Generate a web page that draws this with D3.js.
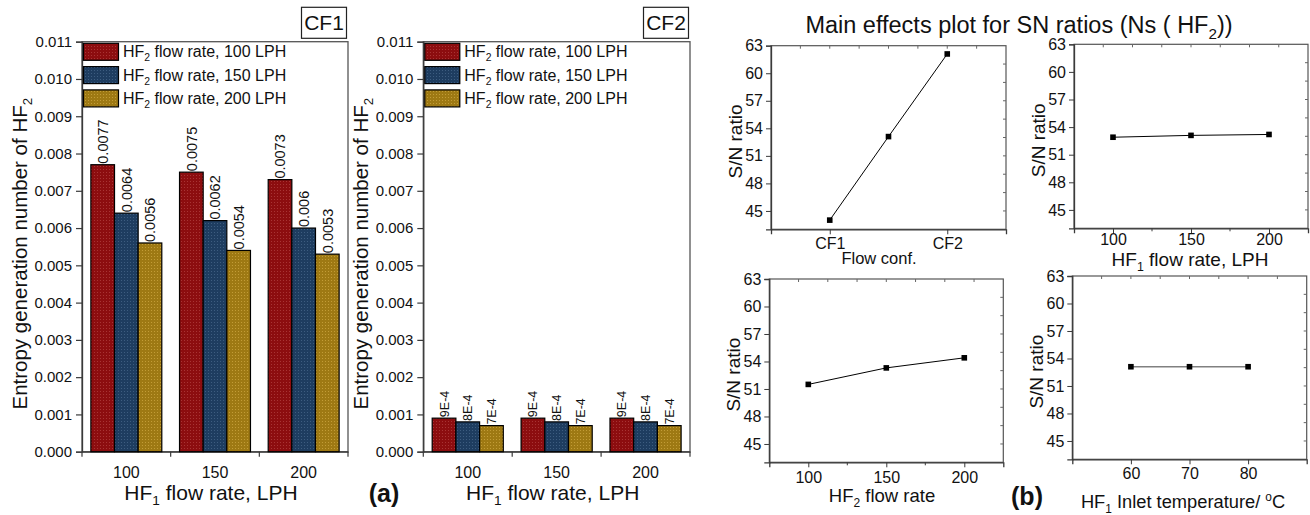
<!DOCTYPE html>
<html>
<head>
<meta charset="utf-8">
<script src="https://cdn.jsdelivr.net/npm/d3@7"></script>
<style>
  body { margin: 0; background: #fff; }
  svg { font-family: "Liberation Sans", Arial, sans-serif; }
</style>
</head>
<body>
<svg id="chart" width="1310" height="515"></svg>
<script>
// ---- data ----
var hf1Categories = ["100", "150", "200"];
var hf2Series = ["100", "150", "200"];
var entropyTicks = [0, 0.001, 0.002, 0.003, 0.004, 0.005, 0.006, 0.007, 0.008, 0.009, 0.010, 0.011];

// CF1, one array per HF2 flow rate, ordered by HF1 category
var cf1Hf2_100 = [0.0077, 0.0075, 0.0073];
var cf1Hf2_150 = [0.0064, 0.0062, 0.006];
var cf1Hf2_200 = [0.0056, 0.0054, 0.0053];

// CF2
var cf2Hf2_100 = [0.0009, 0.0009, 0.0009];
var cf2Hf2_150 = [0.0008, 0.0008, 0.0008];
var cf2Hf2_200 = [0.0007, 0.0007, 0.0007];

// main effects (S/N ratios)
var snTicks = [45, 48, 51, 54, 57, 60, 63];
var flowConfX = [1, 1.5, 2];
var flowConfSN = [44.0, 53.1, 62.1];
var hf1FlowX = [100, 150, 200];
var hf1FlowSN = [52.9, 53.1, 53.2];
var hf2FlowX = [100, 150, 200];
var hf2FlowSN = [51.5, 53.3, 54.4];
var inletTempX = [60, 70, 80];
var inletTempSN = [53.1, 53.1, 53.1];

var seriesColors = ["#8c0d0f", "#1e3d60", "#9e7913"];
var dotColors = ["#a83434", "#3d5d80", "#c29c36"];

var svg = d3.select("#chart");
var axisColor = "#3a3a3a";

/**
 * dotted fill patterns like the origin bars
 */
var defs = svg.append("defs");
seriesColors.forEach(function(c, i) {
    var p = defs.append("pattern")
            .attr("id", "pat" + i)
            .attr("patternUnits", "userSpaceOnUse")
            .attr("width", 3).attr("height", 3);
    p.append("rect").attr("width", 3).attr("height", 3).attr("fill", c);
    p.append("rect").attr("x", 1).attr("y", 1).attr("width", 1).attr("height", 1)
            .attr("fill", dotColors[i]);
});

/**
 * writes text made of parts, each part [string, "sub"|"sup"|null]
 */
function richText(sel, parts, size) {
    var shift = 0;
    parts.forEach(function(p) {
        var t = sel.append("tspan").text(p[0]);
        var want = 0;
        if (p[1] === "sub") {
            want = size * 0.25;
            t.attr("font-size", size * 0.65);
        } else if (p[1] === "sup") {
            want = -size * 0.38;
            t.attr("font-size", size * 0.65);
        }
        if (want !== shift) {
            t.attr("dy", want - shift);
            shift = want;
        }
    });
}

/**
 * one bar panel (CF1 / CF2)
 */
function drawBarPanel(cfg) {
    var g = svg.append("g");
    var y = d3.scaleLinear().domain([0, 0.011]).range([cfg.bottom, cfg.top]);
    var x0 = d3.scaleBand().domain(hf1Categories).range([cfg.left, cfg.right])
            .paddingInner(0.2).paddingOuter(0.1);
    var x1 = d3.scaleBand().domain(hf2Series).range([0, x0.bandwidth()]);
    var step = x0.step();

    // frame
    g.append("rect")
            .attr("x", cfg.left).attr("y", cfg.top)
            .attr("width", cfg.right - cfg.left).attr("height", cfg.bottom - cfg.top)
            .attr("fill", "none").attr("stroke", "#555").attr("stroke-width", 1.3);

    // y axis
    var yAxis = g.append("g")
            .attr("transform", "translate(" + cfg.left + ",0)")
            .call(d3.axisLeft(y).tickValues(entropyTicks).tickFormat(d3.format(".3f"))
                    .tickSize(6).tickPadding(4));
    yAxis.select(".domain").attr("stroke", axisColor).attr("stroke-width", 1.3);
    yAxis.selectAll(".tick line").attr("stroke", axisColor).attr("stroke-width", 1.2);
    yAxis.selectAll(".tick text").attr("font-size", 15).attr("fill", "#111")
            .attr("font-family", "Liberation Sans, Arial, sans-serif");

    // x axis: labels at centers, ticks on boundaries
    var xAxis = g.append("g")
            .attr("transform", "translate(0," + cfg.bottom + ")")
            .call(d3.axisBottom(x0).tickSize(0).tickPadding(15));
    xAxis.select(".domain").attr("stroke", axisColor).attr("stroke-width", 1.3);
    xAxis.selectAll(".tick text").attr("font-size", 16).attr("fill", "#111")
            .attr("font-family", "Liberation Sans, Arial, sans-serif");
    g.selectAll(".bound")
            .data(d3.range(hf1Categories.length + 1))
            .enter().append("line")
            .attr("x1", function(d) { return cfg.left + d * step; })
            .attr("x2", function(d) { return cfg.left + d * step; })
            .attr("y1", cfg.bottom).attr("y2", cfg.bottom + 5)
            .attr("stroke", axisColor).attr("stroke-width", 1.2);

    // bars
    cfg.series.forEach(function(vals, si) {
        var bars = g.append("g");
        bars.selectAll("rect")
                .data(vals)
                .enter().append("rect")
                .attr("x", function(d, i) { return x0(hf1Categories[i]) + x1(hf2Series[si]); })
                .attr("y", function(d) { return y(d); })
                .attr("width", x1.bandwidth())
                .attr("height", function(d) { return y(0) - y(d); })
                .attr("fill", "url(#pat" + si + ")")
                .attr("stroke", "#000").attr("stroke-width", 1.2);
        bars.selectAll("text")
                .data(vals)
                .enter().append("text")
                .attr("transform", function(d, i) {
                    var cx = x0(hf1Categories[i]) + x1(hf2Series[si]) + x1.bandwidth() / 2;
                    return "translate(" + (cx + cfg.labelSize * 0.36) + "," + (y(d) - 1) + ") rotate(-90)";
                })
                .attr("font-size", cfg.labelSize)
                .attr("fill", "#111")
                .text(cfg.labelFormat);
    });

    // legend
    hf2Series.forEach(function(s, i) {
        var top = cfg.top + 1.6 + i * 23.3;
        g.append("rect")
                .attr("x", cfg.left + 1.5).attr("y", top)
                .attr("width", 35).attr("height", 17)
                .attr("fill", "url(#pat" + i + ")")
                .attr("stroke", "#000").attr("stroke-width", 1.2);
        var t = g.append("text")
                .attr("x", cfg.left + 41).attr("y", top + 14)
                .attr("font-size", 16).attr("fill", "#111");
        richText(t, [["HF", null], ["2", "sub"], [" flow rate, " + s + " LPH", null]], 16);
    });

    // CF tag box
    g.append("rect")
            .attr("x", cfg.right - 46.5).attr("y", 7.3)
            .attr("width", 45).attr("height", 31)
            .attr("fill", "#fff").attr("stroke", "#222").attr("stroke-width", 1.2);
    g.append("text")
            .attr("x", cfg.right - 24).attr("y", 30)
            .attr("text-anchor", "middle")
            .attr("font-size", 21).attr("fill", "#111")
            .text(cfg.tag);

    // axis titles
    var yt = g.append("text")
            .attr("transform", "translate(" + (cfg.left - 55) + "," + ((cfg.top + cfg.bottom) / 2 + 7) + ") rotate(-90)")
            .attr("text-anchor", "middle")
            .attr("font-size", 20.5).attr("fill", "#111");
    richText(yt, [["Entropy generation number of HF", null], ["2", "sub"]], 20.5);

    var xt = g.append("text")
            .attr("x", (cfg.left + cfg.right) / 2 - 4).attr("y", 500)
            .attr("text-anchor", "middle")
            .attr("font-size", 21).attr("fill", "#111");
    richText(xt, [["HF", null], ["1", "sub"], [" flow rate, LPH", null]], 21);
}

drawBarPanel({
    left: 82, right: 348, top: 41.7, bottom: 451.7,
    tag: "CF1",
    series: [cf1Hf2_100, cf1Hf2_150, cf1Hf2_200],
    labelSize: 14.5,
    labelFormat: function(d) { return String(d); }
});

drawBarPanel({
    left: 423.3, right: 690, top: 41.7, bottom: 451.7,
    tag: "CF2",
    series: [cf2Hf2_100, cf2Hf2_150, cf2Hf2_200],
    labelSize: 12.5,
    labelFormat: function(d) { return d.toExponential(0).toUpperCase(); }
});

svg.append("text")
        .attr("x", 384).attr("y", 502)
        .attr("text-anchor", "middle")
        .attr("font-size", 25).attr("font-weight", "bold").attr("fill", "#111")
        .text("(a)");

/**
 * one main-effects line panel
 */
function drawEffect(cfg) {
    var g = svg.append("g");
    var x = d3.scaleLinear().domain(cfg.xDomain).range([cfg.left, cfg.right]);
    var y = d3.scaleLinear().domain([43, 63]).range([cfg.bottom, cfg.top]);

    g.append("rect")
            .attr("x", cfg.left).attr("y", cfg.top)
            .attr("width", cfg.right - cfg.left).attr("height", cfg.bottom - cfg.top)
            .attr("fill", "none").attr("stroke", "#555").attr("stroke-width", 1.2);

    var yAxis = g.append("g")
            .attr("transform", "translate(" + cfg.left + ",0)")
            .call(d3.axisLeft(y).tickValues(snTicks).tickSize(5).tickPadding(3));
    yAxis.select(".domain").attr("stroke", axisColor).attr("stroke-width", 1.3);
    yAxis.selectAll(".tick line").attr("stroke", axisColor);
    yAxis.selectAll(".tick text").attr("font-size", 16).attr("fill", "#111")
            .attr("font-family", "Liberation Sans, Arial, sans-serif");

    var xAxis = g.append("g")
            .attr("transform", "translate(0," + cfg.bottom + ")")
            .call(d3.axisBottom(x).tickValues(cfg.xTicks)
                    .tickFormat(function(d, i) { return cfg.xTickLabels ? cfg.xTickLabels[i] : d; })
                    .tickSize(5).tickPadding(cfg.tickPad));
    xAxis.select(".domain").attr("stroke", axisColor).attr("stroke-width", 1.3);
    xAxis.selectAll(".tick line").attr("stroke", axisColor);
    xAxis.selectAll(".tick text").attr("font-size", 16).attr("fill", "#111")
            .attr("font-family", "Liberation Sans, Arial, sans-serif");

    // minor ticks bottom, mirror ticks top and right
    var xSpan = cfg.xDomain[1] - cfg.xDomain[0];
    var xMinor = d3.range(1, 8).map(function(k) { return cfg.xDomain[0] + k * xSpan / 8; });
    g.selectAll(".topTick").data(xMinor).enter().append("line")
            .attr("x1", function(d) { return x(d); }).attr("x2", function(d) { return x(d); })
            .attr("y1", cfg.top).attr("y2", cfg.top + 3)
            .attr("stroke", "#666");
    g.selectAll(".rightTick").data(d3.range(45, 63, 2)).enter().append("line")
            .attr("x1", cfg.right).attr("x2", cfg.right - 3)
            .attr("y1", function(d) { return y(d); }).attr("y2", function(d) { return y(d); })
            .attr("stroke", "#666");
    if (cfg.xMinor) {
        g.selectAll(".minorTick").data(cfg.xMinor).enter().append("line")
                .attr("x1", function(d) { return x(d); }).attr("x2", function(d) { return x(d); })
                .attr("y1", cfg.bottom).attr("y2", cfg.bottom + 3)
                .attr("stroke", axisColor);
    }

    var pts = cfg.xs.map(function(d, i) { return [d, cfg.ys[i]]; });
    g.append("path")
            .datum(pts)
            .attr("d", d3.line().x(function(d) { return x(d[0]); }).y(function(d) { return y(d[1]); }))
            .attr("fill", "none")
            .attr("stroke", cfg.lineColor)
            .attr("stroke-width", cfg.lineWidth);
    g.selectAll(".pt").data(pts).enter().append("rect")
            .attr("x", function(d) { return x(d[0]) - 2.8; })
            .attr("y", function(d) { return y(d[1]) - 2.8; })
            .attr("width", 5.6).attr("height", 5.6)
            .attr("fill", "#000");

    g.append("text")
            .attr("transform", "translate(" + (cfg.left - 29) + "," + ((cfg.top + cfg.bottom) / 2 + 4) + ") rotate(-90)")
            .attr("text-anchor", "middle")
            .attr("font-size", 19).attr("fill", "#111")
            .text("S/N ratio");

    var xt = g.append("text")
            .attr("x", cfg.titleX).attr("y", cfg.titleY)
            .attr("text-anchor", "middle")
            .attr("font-size", cfg.titleSize).attr("fill", "#111");
    richText(xt, cfg.title, cfg.titleSize);
}

drawEffect({
    left: 771, right: 1006, top: 45.7, bottom: 229.3,
    xDomain: [0.5, 2.5], xTicks: [1, 2], xTickLabels: ["CF1", "CF2"], tickPad: 3,
    xs: flowConfX, ys: flowConfSN,
    lineColor: "#000", lineWidth: 1,
    title: [["Flow conf.", null]], titleSize: 16.5, titleX: 879, titleY: 264
});

drawEffect({
    left: 1074, right: 1308, top: 44.3, bottom: 228.3,
    xDomain: [75, 225], xTicks: [100, 150, 200], xMinor: [125, 175], tickPad: 0,
    xs: hf1FlowX, ys: hf1FlowSN,
    lineColor: "#000", lineWidth: 1,
    title: [["HF", null], ["1", "sub"], [" flow rate, LPH", null]], titleSize: 19, titleX: 1190, titleY: 266
});

drawEffect({
    left: 769.3, right: 1003.3, top: 279, bottom: 462.3,
    xDomain: [75, 225], xTicks: [100, 150, 200], xMinor: [125, 175], tickPad: 4,
    xs: hf2FlowX, ys: hf2FlowSN,
    lineColor: "#000", lineWidth: 1,
    title: [["HF", null], ["2", "sub"], [" flow rate", null]], titleSize: 18.5, titleX: 882, titleY: 502
});

drawEffect({
    left: 1072.3, right: 1306.7, top: 276, bottom: 459.3,
    xDomain: [50, 90], xTicks: [60, 70, 80], tickPad: 3,
    xs: inletTempX, ys: inletTempSN,
    lineColor: "#808080", lineWidth: 1.6,
    title: [["HF", null], ["1", "sub"], [" Inlet temperature/ ", null], ["o", "sup"], ["C", null]],
    titleSize: 18.3, titleX: 1183, titleY: 508
});

var mainTitle = svg.append("text")
        .attr("x", 1019).attr("y", 33)
        .attr("text-anchor", "middle")
        .attr("font-size", 23.5).attr("fill", "#111");
richText(mainTitle, [["Main effects plot for SN ratios (Ns ( HF", null], ["2", "sub"], ["))", null]], 23.5);

svg.append("text")
        .attr("x", 1027).attr("y", 505)
        .attr("text-anchor", "middle")
        .attr("font-size", 25).attr("font-weight", "bold").attr("fill", "#111")
        .text("(b)");
</script>
</body>
</html>
